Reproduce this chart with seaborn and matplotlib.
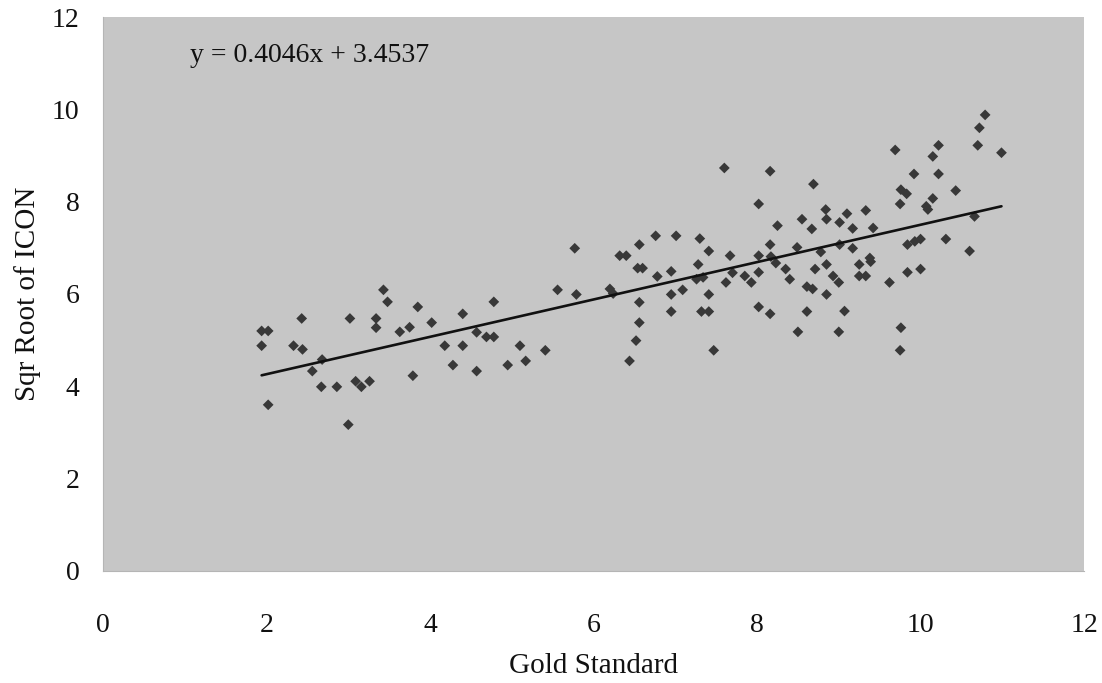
import numpy as np
import pandas as pd
import matplotlib
matplotlib.use("Agg")
import matplotlib.pyplot as plt
import seaborn as sns

# Gold-standard scores and square-root ICON scores, one pair per case
gold_standard = [
    1.94, 2.02, 1.94, 2.02, 2.33, 2.44, 2.43, 2.56, 2.68, 2.67, 2.86, 3.00,
    3.02, 3.09, 3.16, 3.26, 3.34, 3.34, 3.43, 3.48, 3.63, 3.75, 3.79, 3.85,
    4.02, 4.18, 4.28, 4.40, 4.40, 4.57, 4.57, 4.69, 4.78, 4.78, 4.95, 5.10,
    5.17, 5.41, 5.56, 5.79, 5.77,
    7.60, 8.16, 8.69, 8.02, 8.25, 8.55, 8.67, 6.56, 6.76, 7.01, 7.30, 7.41,
    6.32, 6.40, 7.67, 8.02, 8.16, 8.49, 6.54, 6.60, 7.28, 6.95, 6.78, 7.26,
    7.34, 7.70, 7.85, 7.93, 7.62, 8.02, 8.17, 8.23, 8.35, 8.40, 8.71, 8.61,
    8.68, 6.20, 6.24, 6.95, 7.09, 7.41, 6.56, 6.95, 7.32, 7.41, 8.02, 8.16,
    8.61, 8.50, 6.56, 6.52, 6.44, 7.47,
    10.79, 10.72, 10.70, 10.99, 9.69, 10.22, 10.15, 9.92, 10.22, 10.43, 9.76,
    9.83, 9.75, 10.15, 10.07, 10.09, 10.66, 8.84, 8.85, 9.01, 9.10, 9.17,
    9.33, 9.42, 8.78, 9.01, 9.17, 8.85, 8.93, 9.00, 9.25, 9.38, 9.39, 9.25,
    9.33, 9.62, 8.85, 9.07, 9.00, 9.84, 9.93, 10.00, 10.31, 10.60, 9.84,
    10.00, 9.76, 9.75,
]
sqrt_icon = [
    5.20, 5.20, 4.88, 3.60, 4.88, 4.80, 5.47, 4.33, 4.58, 3.99, 3.99, 3.17,
    5.47, 4.11, 3.99, 4.11, 5.47, 5.27, 6.09, 5.83, 5.18, 5.28, 4.23, 5.72,
    5.38, 4.88, 4.46, 4.88, 5.57, 5.17, 4.33, 5.07, 5.07, 5.83, 4.46, 4.88,
    4.55, 4.78, 6.09, 5.99, 6.99,
    8.73, 8.66, 8.38, 7.95, 7.48, 7.62, 7.41, 7.07, 7.26, 7.26, 7.20, 6.93,
    6.83, 6.83, 6.83, 6.83, 7.07, 7.01, 6.56, 6.56, 6.64, 6.49, 6.38, 6.32,
    6.36, 6.46, 6.39, 6.25, 6.25, 6.47, 6.81, 6.67, 6.54, 6.32, 6.54, 6.16,
    6.11, 6.11, 6.01, 5.99, 6.09, 5.99, 5.82, 5.62, 5.62, 5.62, 5.72, 5.57,
    5.62, 5.18, 5.38, 4.99, 4.55, 4.78,
    9.88, 9.60, 9.22, 9.06, 9.12, 9.22, 8.98, 8.60, 8.60, 8.24, 8.26,
    8.17, 7.95, 8.07, 7.90, 7.83, 7.68, 7.83, 7.62, 7.55, 7.74, 7.42,
    7.81, 7.43, 6.91, 7.07, 6.99, 6.64, 6.39, 6.25, 6.64, 6.78, 6.70, 6.39,
    6.39, 6.25, 5.99, 5.63, 5.18, 7.07, 7.14, 7.19, 7.19, 6.93, 6.47,
    6.54, 5.27, 4.78,
]

# Linear trend reported on the chart
slope = 0.4046
intercept = 3.4537
equation_label = "y = 0.4046x + 3.4537"

x_ticks = [0, 2, 4, 6, 8, 10, 12]
y_ticks = [0, 2, 4, 6, 8, 10, 12]
x_title = "Gold Standard"
y_title = "Sqr Root of ICON"

df = pd.DataFrame({"gold": gold_standard, "icon": sqrt_icon})

sns.set_style("white")
plt.rcParams["font.family"] = ["Liberation Serif", "DejaVu Serif"]

fig = plt.figure(figsize=(11.02, 6.83), dpi=100)
ax = fig.add_axes([0.0935, 0.1640, 0.8902, 0.8111])
ax.set_facecolor("#c6c6c6")

sns.scatterplot(data=df, x="gold", y="icon", marker="D", s=30,
                color="#383838", edgecolor="none", linewidth=0, ax=ax, zorder=3)

line_x = np.array([min(gold_standard), max(gold_standard)])
sns.lineplot(x=line_x, y=slope * line_x + intercept, color="#111111",
             linewidth=1.9, ax=ax, zorder=4)

ax.text(1.06, 11.02, equation_label, fontsize=20, color="#111111",
        va="baseline", ha="left")

ax.set_xlim(0, 12)
ax.set_ylim(0, 12)
ax.set_xticks(x_ticks)
ax.set_yticks(y_ticks)
ax.set_xticklabels([str(t) for t in x_ticks])
ax.set_yticklabels([str(t) for t in y_ticks])
ax.tick_params(axis="both", labelsize=20, colors="#111111", length=6,
               width=0.8, direction="out")
ax.tick_params(axis="x", pad=24, color="#bbbbbb")
ax.tick_params(axis="y", pad=11, color="#bbbbbb")

for side in ["top", "right"]:
    ax.spines[side].set_visible(False)
for side in ["left", "bottom"]:
    ax.spines[side].set_color("#b5b5b5")
    ax.spines[side].set_linewidth(0.8)

ax.set_xlabel(x_title, fontsize=21, color="#111111", labelpad=11)
ax.set_ylabel(y_title, fontsize=21, color="#111111", labelpad=8)

fig.savefig("out.png", dpi=100, facecolor="white")
